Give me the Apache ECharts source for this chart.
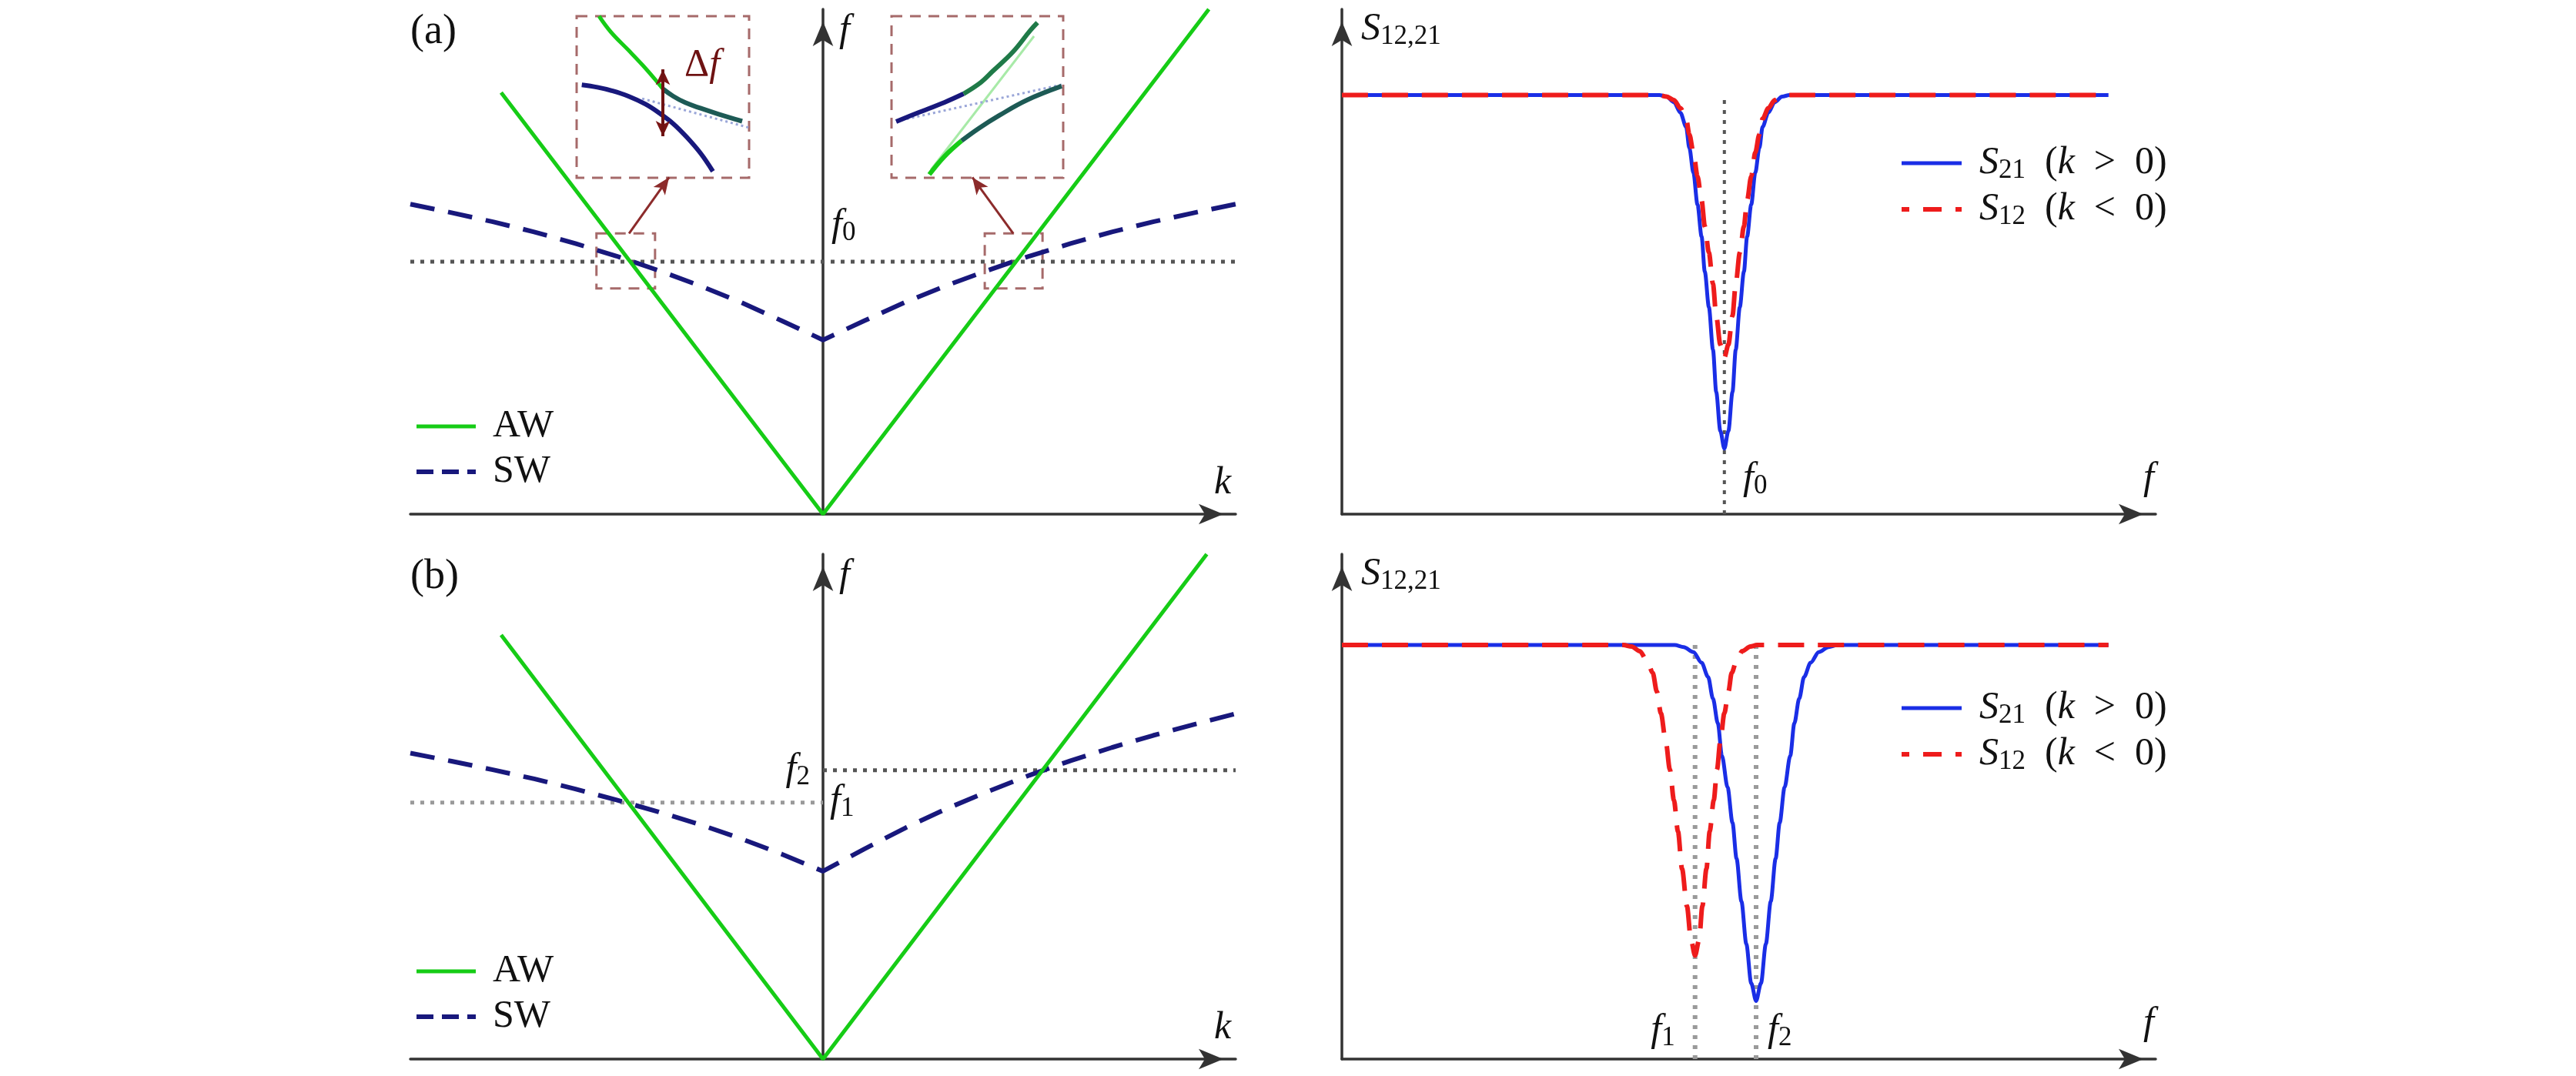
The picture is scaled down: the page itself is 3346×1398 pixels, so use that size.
<!DOCTYPE html>
<html><head><meta charset="utf-8">
<script src="https://cdn.jsdelivr.net/npm/echarts@6/dist/echarts.min.js"></script>
<style>html,body{margin:0;padding:0;background:#fff}#c{width:3346px;height:1398px}</style>
</head><body><div id="c"></div>
<script>
// ================= DATA =================
// Panel (a) left : dispersion f(k)
const AW_A = [[-0.78,0.835],[0,0],[0.935,1.0]];
const SW_A = [[-1,0.614],[-0.9,0.597],[-0.8,0.579],[-0.7,0.559],[-0.6,0.536],[-0.5,0.511],[-0.4,0.483],[-0.3,0.453],[-0.2,0.420],[-0.1,0.383],[0,0.345],
              [0.1,0.383],[0.2,0.420],[0.3,0.453],[0.4,0.483],[0.5,0.511],[0.6,0.536],[0.7,0.559],[0.8,0.579],[0.9,0.597],[1,0.614]];
const F0_A = 0.50;
const SMALL_BOXES_A = [[[-0.549,0.556],[-0.407,0.447]],[[0.392,0.556],[0.532,0.447]]];
const ARROWS_A = [[[-0.47,0.556],[-0.373,0.667]],[[0.461,0.556],[0.362,0.667]]];
// zoom insets (normalised 0..1 inside each inset box)
const INSET_L_UP_GREEN = [[0.13,1.0],[0.2,0.9],[0.3,0.79],[0.38,0.70],[0.45,0.615],[0.5,0.55]];
const INSET_L_UP_DARK  = [[0.5,0.55],[0.56,0.505],[0.63,0.465],[0.72,0.43],[0.82,0.395],[0.96,0.35]];
const INSET_L_LOW      = [[0.03,0.575],[0.12,0.56],[0.2,0.54],[0.3,0.505],[0.4,0.455],[0.48,0.40],[0.56,0.335],[0.64,0.25],[0.72,0.15],[0.79,0.04]];
const INSET_L_FAINT    = [[0.38,0.49],[1.0,0.31]];
const INSET_L_DF       = [[0.5,0.257],[0.5,0.67]];
const INSET_R_UP_DARK  = [[0.027,0.348],[0.148,0.40],[0.309,0.467],[0.42,0.52]];
const INSET_R_UP_GREEN = [[0.42,0.52],[0.52,0.59],[0.587,0.657],[0.709,0.781],[0.807,0.91],[0.85,0.96]];
const INSET_R_LOW_GREEN= [[0.22,0.02],[0.309,0.133],[0.408,0.229]];
const INSET_R_LOW_DARK = [[0.408,0.229],[0.507,0.305],[0.628,0.386],[0.789,0.481],[0.991,0.567]];
const INSET_R_FAINT_G  = [[0.23,0.05],[0.83,0.876]];
const INSET_R_FAINT_B  = [[0.027,0.35],[0.99,0.576]];

// Panel (a) right : transmission S(f)
const BLUE_A = [[0,0.83],[0.390,0.830],[0.399,0.827],[0.408,0.816],[0.416,0.795],[0.423,0.767],[0.427,0.725],[0.432,0.676],[0.437,0.613],[0.442,0.550],[0.446,0.480],[0.451,0.410],[0.456,0.326],[0.460,0.242],[0.465,0.165],[0.470,0.130],
                [0.475,0.165],[0.480,0.242],[0.484,0.326],[0.489,0.410],[0.494,0.480],[0.498,0.550],[0.503,0.613],[0.508,0.676],[0.513,0.725],[0.517,0.767],[0.524,0.795],[0.532,0.816],[0.541,0.827],[0.550,0.830],[0.942,0.830]];
const RED_A  = [[0,0.83],[0.390,0.830],[0.399,0.827],[0.408,0.820],[0.416,0.804],[0.423,0.783],[0.427,0.752],[0.432,0.716],[0.437,0.669],[0.442,0.622],[0.446,0.570],[0.451,0.518],[0.456,0.456],[0.460,0.393],[0.465,0.336],[0.470,0.310],
                [0.475,0.336],[0.480,0.393],[0.484,0.456],[0.489,0.518],[0.494,0.570],[0.498,0.622],[0.503,0.669],[0.508,0.716],[0.513,0.752],[0.517,0.783],[0.524,0.804],[0.532,0.820],[0.541,0.827],[0.550,0.830],[0.942,0.830]];
const F0_POS_A = 0.470, PLATEAU_A = 0.83;

// Panel (b) left
const AW_B = [[-0.78,0.84],[0,0],[0.93,1.0]];
const SW_B = [[-1,0.606],[-0.9,0.590],[-0.8,0.573],[-0.7,0.555],[-0.6,0.535],[-0.5,0.513],[-0.4,0.490],[-0.3,0.465],[-0.2,0.437],[-0.1,0.406],[0,0.372],
              [0.1,0.416],[0.2,0.458],[0.3,0.496],[0.4,0.530],[0.5,0.562],[0.6,0.591],[0.7,0.617],[0.8,0.641],[0.9,0.663],[1,0.684]];
const F1_B = 0.508, F2_B = 0.572;

// Panel (b) right
const BLUE_B = [[0,0.82],[0.409,0.820],[0.420,0.816],[0.432,0.806],[0.442,0.785],[0.450,0.757],[0.456,0.714],[0.462,0.665],[0.467,0.601],[0.474,0.538],[0.480,0.468],[0.485,0.397],[0.491,0.312],[0.497,0.228],[0.503,0.150],[0.509,0.115],
                [0.515,0.150],[0.521,0.228],[0.527,0.312],[0.533,0.397],[0.538,0.468],[0.544,0.538],[0.551,0.601],[0.556,0.665],[0.562,0.714],[0.568,0.757],[0.576,0.785],[0.586,0.806],[0.598,0.816],[0.609,0.820],[0.942,0.820]];
const RED_B  = [[0,0.82],[0.346,0.820],[0.356,0.817],[0.366,0.808],[0.375,0.789],[0.382,0.765],[0.387,0.728],[0.392,0.685],[0.398,0.629],[0.403,0.574],[0.408,0.513],[0.413,0.451],[0.418,0.377],[0.424,0.303],[0.429,0.236],[0.434,0.205],
                [0.439,0.236],[0.443,0.303],[0.448,0.377],[0.452,0.451],[0.457,0.513],[0.461,0.574],[0.465,0.629],[0.470,0.685],[0.475,0.728],[0.479,0.765],[0.485,0.789],[0.492,0.808],[0.502,0.817],[0.510,0.820],[0.942,0.820]];
const F1_POS_B = 0.434, F2_POS_B = 0.509, PLATEAU_B = 0.82;

// ================= STYLE =================
const GREEN='#16cc16', NAVY='#18187c', BLUE='#1a2ee6', RED='#ee1c1c', AXIS='#333333';
const DOT_DARK='#555555', DOT_LIGHT='#9a9a9a', BOX='#a66a6a', ARROW='#8c2b2b', DF='#6e1212', TEAL='#1d5a55';
const FONT='Liberation Serif, DejaVu Serif, serif';
const richZ = (c) => ({
  it:{fontFamily:FONT,fontSize:50,fontStyle:'italic',lineHeight:54,fill:c,color:c},
  rm:{fontFamily:FONT,fontSize:50,lineHeight:54,fill:c,color:c},
  big:{fontFamily:FONT,fontSize:54,lineHeight:54,fill:c,color:c},
  sub:{fontFamily:FONT,fontSize:35,lineHeight:18,verticalAlign:'bottom',fill:c,color:c}
});

const chart = echarts.init(document.getElementById('c'), null, {renderer:'canvas'});

function axisLine(){return {show:true,onZero:true,symbol:['none','arrow'],symbolSize:[20,32],symbolOffset:[0,-16],lineStyle:{color:AXIS,width:3.5}};}
function vAxis(grid,min,max,show){return {type:'value',gridIndex:grid,min:min,max:max,show:show!==false,axisLine:axisLine(),axisTick:{show:false},axisLabel:{show:false},splitLine:{show:false}};}

const grids = [
  {left:533, top:12, width:1072, height:656},   // a-left
  {left:1743, top:12, width:1057, height:656},  // a-right
  {left:533, top:720, width:1072, height:656},  // b-left
  {left:1743, top:720, width:1057, height:656}, // b-right
  {left:749, top:21, width:224, height:210},    // inset L
  {left:1158, top:21, width:223, height:210}    // inset R
].map(g=>Object.assign({outerBoundsMode:'none',containLabel:false},g));

const xAxes=[vAxis(0,-1,1),vAxis(1,0,1),vAxis(2,-1,1),vAxis(3,0,1),vAxis(4,0,1,false),vAxis(5,0,1,false)];
const yAxes=[vAxis(0,0,1),vAxis(1,0,1),vAxis(2,0,1),vAxis(3,0,1),vAxis(4,0,1,false),vAxis(5,0,1,false)];

function line(name,g,data,style,extra){
  return Object.assign({type:'line',name:name,xAxisIndex:g,yAxisIndex:g,data:data,symbol:'none',showSymbol:false,silent:true,
    lineStyle:style,itemStyle:{color:style.color},animation:false},extra||{});
}
const dotted=(c,w)=>({color:c,width:w,type:[5,8]});
const boxArea=(boxes)=>({silent:true,itemStyle:{color:'rgba(0,0,0,0)',borderColor:BOX,borderWidth:3,borderType:[14,10]},
  data:boxes.map(b=>[{coord:b[0]},{coord:b[1]}])});

const series=[
  // (a) left
  line('f0 level',0,[[-1,F0_A],[1,F0_A]],dotted(DOT_DARK,5),{z:1,
    markArea:boxArea(SMALL_BOXES_A),
    markLine:{silent:true,symbol:['none','arrow'],symbolSize:[14,22],label:{show:false},lineStyle:{color:ARROW,width:3,type:'solid'},
      data:ARROWS_A.map(a=>[{coord:a[0]},{coord:a[1]}])}}),
  line('SW',0,SW_A,{color:NAVY,width:6,type:[32,18]}),
  line('AW',0,AW_A,{color:GREEN,width:5}),
  // (a) right
  line('f0 mark',1,[[F0_POS_A,0],[F0_POS_A,PLATEAU_A]],dotted(DOT_DARK,4),{z:1}),
  line('S21',1,BLUE_A,{color:BLUE,width:5},{smooth:0.3,smoothMonotone:'x'}),
  line('S12',1,RED_A,{color:RED,width:6,type:[34,18]},{smooth:0.3,smoothMonotone:'x'}),
  // (b) left
  line('f1 level',2,[[-1,F1_B],[0,F1_B]],dotted(DOT_LIGHT,5),{z:1}),
  line('f2 level',2,[[0,F2_B],[1,F2_B]],dotted(DOT_DARK,5),{z:1}),
  line('SW',2,SW_B,{color:NAVY,width:6,type:[32,18]}),
  line('AW',2,AW_B,{color:GREEN,width:5}),
  // (b) right
  line('f1 mark',3,[[F1_POS_B,0],[F1_POS_B,PLATEAU_B]],dotted(DOT_LIGHT,6),{z:1}),
  line('f2 mark',3,[[F2_POS_B,0],[F2_POS_B,PLATEAU_B]],dotted(DOT_LIGHT,6),{z:1}),
  line('S21',3,BLUE_B,{color:BLUE,width:5},{smooth:0.3,smoothMonotone:'x'}),
  line('S12',3,RED_B,{color:RED,width:6,type:[34,18]},{smooth:0.3,smoothMonotone:'x'}),
  // inset left
  line('insetL faint',4,INSET_L_FAINT,{color:'#9aa6d8',width:3,type:[3,4]},{z:1,markArea:boxArea([[[0,1],[1,0]]])}),
  line('insetL up g',4,INSET_L_UP_GREEN,{color:GREEN,width:5},{smooth:0.4}),
  line('insetL up d',4,INSET_L_UP_DARK,{color:TEAL,width:6},{smooth:0.4}),
  line('insetL low',4,INSET_L_LOW,{color:NAVY,width:6},{smooth:0.4}),
  line('insetL df',4,INSET_L_DF,{color:DF,width:4},{z:5,markLine:{silent:true,symbol:['arrow','arrow'],symbolSize:[14,20],label:{show:false},
      lineStyle:{color:'#7a1515',width:4,type:'solid'},data:[[{coord:INSET_L_DF[0]},{coord:INSET_L_DF[1]}]]}}),
  // inset right
  line('insetR faint g',5,INSET_R_FAINT_G,{color:'#a8eaa8',width:3},{z:1,markArea:boxArea([[[0,1],[1,0]]])}),
  line('insetR faint b',5,INSET_R_FAINT_B,{color:'#9aa6d8',width:3,type:[3,4]},{z:1}),
  line('insetR up d',5,INSET_R_UP_DARK,{color:NAVY,width:6},{smooth:0.4}),
  line('insetR up g',5,INSET_R_UP_GREEN,{color:'#1f7a48',width:6},{smooth:0.4}),
  line('insetR low g',5,INSET_R_LOW_GREEN,{color:GREEN,width:6},{smooth:0.4}),
  line('insetR low d',5,INSET_R_LOW_DARK,{color:TEAL,width:6},{smooth:0.4})
];

const legendText={fontFamily:FONT,fontSize:50,lineHeight:50,color:'#111',padding:[0,0,0,17]};
const richC=richZ('#111');
const legBase={orient:'vertical',itemHeight:2,selectedMode:false,itemStyle:{opacity:0},lineStyle:{width:5}};
const NB='\u00a0';
const fmtS=n=>n==='S21'
  ?'{it|S}{sub|21}{rm|'+NB+NB+'(}{it|k}{rm|'+NB+NB+'>'+NB+NB+'0)}'
  :'{it|S}{sub|12}{rm|'+NB+NB+'(}{it|k}{rm|'+NB+NB+'<'+NB+NB+'0)}';
const legends=[
  Object.assign({},legBase,{left:533,top:524,itemWidth:77,itemGap:9,textStyle:legendText,
   data:['AW',{name:'SW',lineStyle:{type:[22,11],width:6}}]}),
  Object.assign({},legBase,{left:533,top:1232,itemWidth:77,itemGap:9,textStyle:legendText,
   data:['AW',{name:'SW',lineStyle:{type:[22,11],width:6}}]}),
  Object.assign({},legBase,{left:2462,top:180,itemWidth:78,itemGap:6,
   textStyle:Object.assign({},legendText,{rich:richC,padding:[0,0,0,18]}),formatter:fmtS,
   data:['S21',{name:'S12',lineStyle:{type:[24,18],dashOffset:14,width:6}}]}),
  Object.assign({},legBase,{left:2462,top:888,itemWidth:78,itemGap:6,
   textStyle:Object.assign({},legendText,{rich:richC,padding:[0,0,0,18]}),formatter:fmtS,
   data:['S21',{name:'S12',lineStyle:{type:[24,18],dashOffset:14,width:6}}]})
];

function txt(x,y,text,align,color){
  const c=color||'#111';
  return {type:'text',x:x,y:y,silent:true,z:100,style:{text:text,rich:richZ(c),textAlign:align||'left',textVerticalAlign:'middle',fill:c,font:'48px '+FONT}};
}
const graphics=[
  txt(533,42,'{big|(a)}'), txt(533,750,'{big|(b)}'),
  txt(1090,40,'{it|f}'), txt(1090,748,'{it|f}'),
  txt(1588,628,'{it|k}','center'), txt(1588,1336,'{it|k}','center'),
  txt(1080,293,'{it|f}{sub|0}'),
  txt(912,85,'{rm|Δ}{it|f}','center',DF),
  txt(1052,1000,'{it|f}{sub|2}','right'),
  txt(1078,1041,'{it|f}{sub|1}'),
  txt(1768,38,'{it|S}{sub|12,21}'), txt(1768,746,'{it|S}{sub|12,21}'),
  txt(2791,622,'{it|f}','center'), txt(2791,1330,'{it|f}','center'),
  txt(2264,622,'{it|f}{sub|0}'),
  txt(2160,1339,'{it|f}{sub|1}','center'),
  txt(2296,1339,'{it|f}{sub|2}')
];

chart.setOption({
  backgroundColor:'#ffffff',animation:false,textStyle:{fontFamily:FONT},
  grid:grids,xAxis:xAxes,yAxis:yAxes,series:series,legend:legends,
  graphic:{elements:graphics}
});
</script></body></html>
